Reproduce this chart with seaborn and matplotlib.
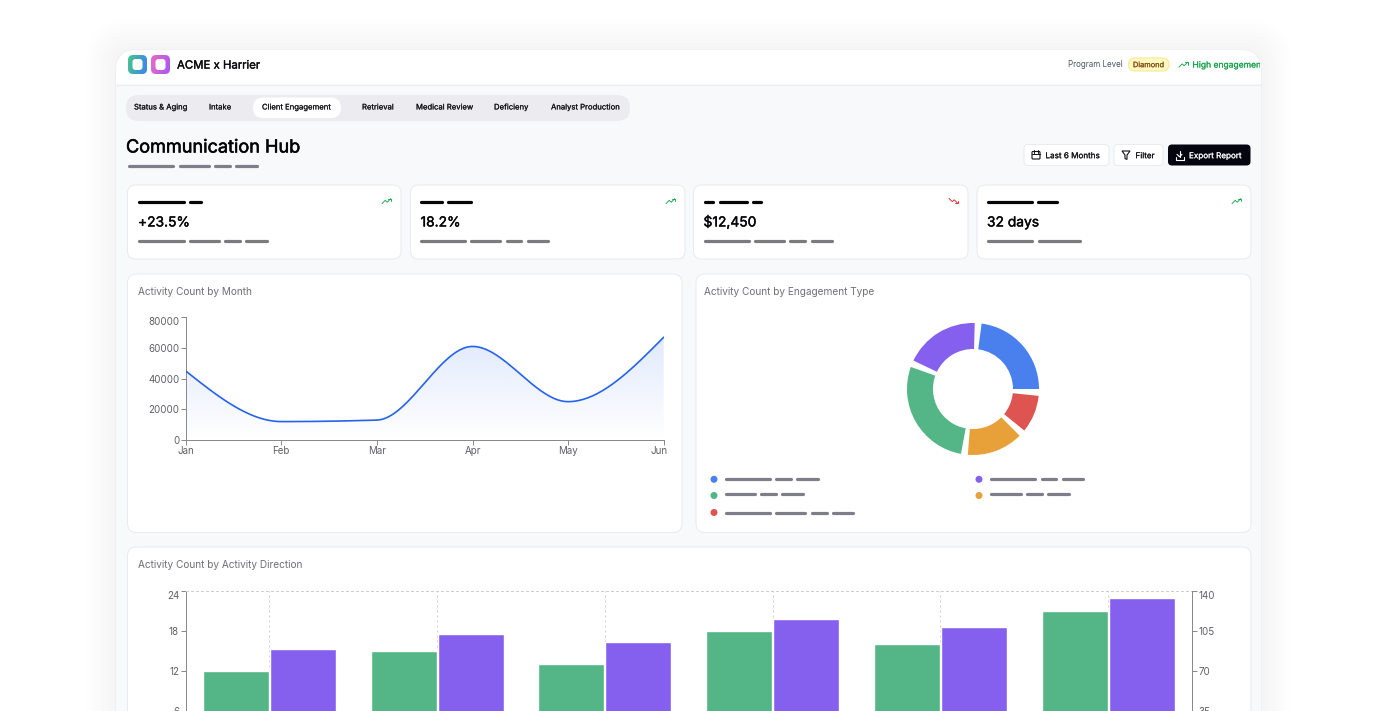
import numpy as np
import pandas as pd
import matplotlib
matplotlib.use("Agg")
import matplotlib.pyplot as plt
import matplotlib.patheffects as pe
import seaborn as sns
from matplotlib.patches import FancyBboxPatch, Circle, Polygon
from matplotlib.colors import LinearSegmentedColormap, to_rgb
from matplotlib.transforms import Bbox, ScaledTranslation

W, H = 1377, 711

# data
tabs = ["Status & Aging", "Intake", "Client Engagement", "Retrieval",
        "Medical Review", "Deficieny", "Analyst Production"]
kpi_values = ["+23.5%", "18.2%", "$12,450", "32 days"]

months = ["Jan", "Feb", "Mar", "Apr", "May", "Jun"]
activity_counts = [45000, 12000, 13000, 61000, 25000, 67000]

engagement_types = ["Blue", "Purple", "Green", "Orange", "Red"]
engagement_share = [25, 20, 30, 15, 10]

direction_months = ["Jan", "Feb", "Mar", "Apr", "May", "Jun"]
inbound_counts = [12, 15, 13, 18, 16, 21]
outbound_counts = [89, 102, 95, 115, 108, 134]

BLUE = "#4a7fee"
PURPLE = "#8560ee"
GREEN = "#54b686"
ORANGE = "#e8a038"
RED = "#dd5450"
SKEL = "#7e7d8a"
AXIS = "#8a8a8a"
TICK = "#5f5f66"
BORDER = "#e9ebee"

sns.set_theme(style="white")
plt.rcParams["font.family"] = ["Inter", "DejaVu Sans"]
plt.rcParams["axes.linewidth"] = 0.72

fig = plt.figure(figsize=(W / 100, H / 100), dpi=100, facecolor="white")
bg = fig.add_axes([0, 0, 1, 1], zorder=0)
bg.set_xlim(0, W)
bg.set_ylim(H, 0)
bg.axis("off")


def px_axes(left, top, right, bottom, **kwargs):
    return fig.add_axes([left / W, 1 - bottom / H, (right - left) / W, (bottom - top) / H], **kwargs)


def box(x0, y0, x1, y1, r, fc, ec="none", lw=0.72, z=2, alpha=None):
    p = FancyBboxPatch((x0 + r, y0 + r), x1 - x0 - 2 * r, y1 - y0 - 2 * r,
                       boxstyle=f"round,pad={r},rounding_size={r}",
                       fc=fc, ec=ec, lw=lw, zorder=z, alpha=alpha)
    bg.add_patch(p)
    return p


def txt(x, y, s, px, color="black", stroke=0.0, ha="left", z=6):
    # y is the middle of the capitals, so every label in a row shares a baseline
    t = bg.text(x, y + 0.36 * px, s, fontsize=px * 0.72, color=color,
                ha=ha, va="baseline", zorder=z)
    if stroke:
        t.set_path_effects([pe.withStroke(linewidth=stroke, foreground=color)])
    return t


def skeleton(y, spans, color=SKEL):
    for x0, x1 in spans:
        bg.plot([x0 + 0.8, x1 - 2.2], [y, y], color=color, lw=2.3,
                solid_capstyle="round", zorder=5)


def gradient_box(x0, y0, x1, y1, r, c0, c1):
    cmap = LinearSegmentedColormap.from_list("g", [c0, c1])
    grid = np.linspace(0, 1, 64)
    img = 0.8 * grid[None, :] + 0.2 * grid[:, None]
    im = bg.imshow(img, extent=(x0, x1, y1, y0), cmap=cmap, aspect="auto", zorder=4)
    clip = box(x0, y0, x1, y1, r, "none", z=4)
    im.set_clip_path(clip)
    box(x0 + 4.5, y0 + 4, x1 - 4.5, y1 - 4, 3, "white", z=5)


def trend_icon(x, y, color, down=False):
    sign = -1 if down else 1
    xs = np.array([0, 3.2, 5.2, 8.8]) + x
    ys = y + sign * np.array([2.6, -0.6, 1.2, -2.4])
    bg.plot(xs, ys, color=color, lw=0.65, zorder=6)
    bg.plot([x + 6.4, x + 8.8, x + 8.8], [y - sign * 2.4, y - sign * 2.4, y],
            color=color, lw=0.65, zorder=6)


def monotone_curve(xs, ys, steps=40):
    # same cubic the browser chart uses between the points
    xs = np.asarray(xs, float)
    ys = np.asarray(ys, float)
    h = np.diff(xs)
    s = np.diff(ys) / h
    m = np.zeros(len(xs))
    for i in range(1, len(xs) - 1):
        p = (s[i - 1] * h[i] + s[i] * h[i - 1]) / (h[i - 1] + h[i])
        m[i] = (np.sign(s[i - 1]) + np.sign(s[i])) * min(abs(s[i - 1]), abs(s[i]), 0.5 * abs(p))
    m[0] = (3 * s[0] - m[1]) / 2
    m[-1] = (3 * s[-1] - m[-2]) / 2
    out_x, out_y = [], []
    for i in range(len(xs) - 1):
        t = np.linspace(0, 1, steps)
        a = (2 * t**3 - 3 * t**2 + 1) * ys[i] + (t**3 - 2 * t**2 + t) * h[i] * m[i]
        b = (-2 * t**3 + 3 * t**2) * ys[i + 1] + (t**3 - t**2) * h[i] * m[i + 1]
        out_x.extend(xs[i] + t * h[i])
        out_y.extend(a + b)
    return np.array(out_x), np.array(out_y)


# page shadow and shell
for i in range(10, 0, -1):
    box(116 - i * 3, 50 - i * 3, 1261 + i * 3, 820, 22 + i * 2, "black", z=1, alpha=0.002)
box(115, 49, 1262, 820, 22, "#f0f0f2", z=1.5)
shell = box(116, 50, 1261, 820, 21, "#f8f9fb", z=2)
head = bg.fill_between([116, 1261], 50, 84, color="white", zorder=2.5, lw=0)
head.set_clip_path(shell)
bg.plot([116, 1261], [84.5, 84.5], color="#eceef1", lw=0.8, zorder=3)

# header
gradient_box(128, 55, 147, 74, 5, "#46c78a", "#3b82f6")
gradient_box(151, 55, 170, 74, 5, "#e86cc0", "#a855f7")
txt(177, 64.5, "ACME x Harrier", 11.4, "#0b0b10", 0.25)
txt(1068, 64.5, "Program Level", 8.0, "#4b5563")
box(1128.5, 58, 1169, 71, 6.5, "#fef9c3", "#fde68a", z=4)
txt(1148.7, 64.5, "Diamond", 7.4, "#854d0e", 0.12, ha="center")
trend_icon(1179, 64.5, "#16a34a")
t = txt(1192.5, 64.5, "High engagement", 8.5, "#16a34a", 0.1)
t.set_clip_box(Bbox([[0, 0], [1260, H]]))
t.set_clip_on(True)

# tabs
box(126, 95, 630, 121, 13, "#ecebf0", z=3)
box(253, 97.5, 341, 118, 10, "white", z=4)
tab_x = [134, 209, 262, 362, 416, 494, 551]
for name, x in zip(tabs, tab_x):
    txt(x, 106.7, name, 7.7, "#111118", 0.1)

# title block
txt(126, 146, "Communication Hub", 18.1, "#050508", 0.4)
skeleton(166, [(128, 175), (179, 211), (214, 232), (235, 259)])

# buttons
box(1024, 144.5, 1109, 165.5, 4, "white", BORDER, z=4)
box(1032, 151.5, 1040, 159, 1, "none", "#111118", 0.8, z=6)
bg.plot([1032, 1040], [153.8, 153.8], color="#111118", lw=0.7, zorder=6)
bg.plot([1034.2, 1034.2], [150, 152.5], color="#111118", lw=0.7, zorder=6)
bg.plot([1037.8, 1037.8], [150, 152.5], color="#111118", lw=0.7, zorder=6)
txt(1045.5, 155.3, "Last 6 Months", 8.1, "#111118", 0.1)
box(1114, 144.5, 1163, 165.5, 4, "white", BORDER, z=4)
bg.add_patch(Polygon([(1122, 151), (1130, 151), (1127, 155), (1127, 159.5), (1125, 158.5), (1125, 155)],
                     closed=True, fc="none", ec="#111118", lw=0.8, zorder=6))
txt(1135.5, 155.3, "Filter", 8.1, "#111118", 0.1)
box(1168, 144.5, 1250.5, 165.5, 4, "#050510", z=4)
bg.plot([1179.5, 1179.5], [150.5, 156.5], color="white", lw=0.8, zorder=6)
bg.plot([1177, 1179.5, 1182], [154.3, 156.8, 154.3], color="white", lw=0.8, zorder=6)
bg.plot([1175.5, 1175.5, 1183.5, 1183.5], [157, 159.5, 159.5, 157], color="white", lw=0.8, zorder=6)
txt(1189, 155.3, "Export Report", 8.1, "white", 0.1)

# KPI cards
card_x = [(127.5, 401), (410.5, 685), (693.5, 968), (977, 1251)]
kpi_black = [[(138.5, 186), (189, 203.5)], [(420, 444), (447, 473)],
             [(704, 715), (719, 749), (752, 763)], [(987, 1034), (1037, 1059)]]
kpi_grey = [[(138.5, 186), (189, 221), (224.5, 242), (245.5, 269)],
            [(420, 467.5), (470.5, 502.5), (506, 523.5), (527, 550)],
            [(704, 751), (754, 786), (789, 807), (811, 834)],
            [(987, 1034), (1038, 1082)]]
for (x0, x1), value, black, grey in zip(card_x, kpi_values, kpi_black, kpi_grey):
    box(x0, 185, x1, 259, 8, "white", BORDER, z=3)
    skeleton(202, black, "#050508")
    skeleton(241, grey, "#7b7b7f")
    txt(x0 + 10 if x0 > 128 else 138, 221.5, value, 13.8, "#050508", 0.3)
    down = value.startswith("$")
    trend_icon(x1 - 19, 201, "#dc2626" if down else "#16a34a", down)

# chart cards
box(127.5, 274, 682, 532.5, 9, "white", BORDER, z=3)
box(696, 274, 1251, 532.5, 9, "white", BORDER, z=3)
box(127.5, 547, 1251, 820, 9, "white", BORDER, z=3)
txt(138, 291, "Activity Count by Month", 10.05, "#6f6f76")
txt(704.5, 291, "Activity Count by Engagement Type", 10.05, "#6f6f76")
txt(138, 564.7, "Activity Count by Activity Direction", 10.05, "#6f6f76")

# area chart
ax = px_axes(185.7, 317.3, 663.7, 440, zorder=2)
ax.patch.set_alpha(0)
xpos = np.arange(len(months))
curve_x, curve_y = monotone_curve(xpos, activity_counts)
sns.lineplot(x=curve_x, y=curve_y, ax=ax, color="#2563eb", lw=1.2, sort=False, errorbar=None, zorder=3)
rgb = to_rgb("#2563eb")
ramp = np.zeros((128, 2, 4))
ramp[..., :3] = rgb
ramp[..., 3] = np.linspace(0.14, 0.0, 128)[:, None]
area = ax.fill_between(curve_x, curve_y, 0, color="none", lw=0)
im = ax.imshow(ramp, extent=(0, 5, 0, max(activity_counts)), aspect="auto", zorder=2)
im.set_clip_path(area.get_paths()[0], transform=ax.transData)
ax.set_xlim(0, 5)
ax.set_ylim(0, 80000)
ax.set_xticks(xpos, months)
ax.set_yticks([0, 20000, 40000, 60000, 80000])
sns.despine(ax=ax)
ax.tick_params(colors=TICK, labelsize=7, length=3.6, width=0.72, color=AXIS, pad=1, bottom=True, left=True)
for side in ["left", "bottom"]:
    ax.spines[side].set_color(AXIS)
ax.get_yticklabels()[-1].set_va("top")
jun = ax.get_xticklabels()[-1]
jun.set_transform(jun.get_transform() + ScaledTranslation(-4.5 / 100, 0, fig.dpi_scale_trans))

# donut
dax = px_axes(973 - 70, 389 - 70, 973 + 70, 389 + 70, zorder=2)
pad_angle = 6
sweep = 360 - pad_angle * len(engagement_share)
slices, slice_colors = [], []
for share, color in zip(engagement_share, sns.color_palette([BLUE, PURPLE, GREEN, ORANGE, RED])):
    slices += [share / sum(engagement_share) * sweep, pad_angle]
    slice_colors += [color, "none"]
dax.pie(slices, colors=slice_colors, startangle=0, counterclock=True, radius=66,
        wedgeprops={"width": 26, "linewidth": 0})
dax.set_xlim(-70, 70)
dax.set_ylim(-70, 70)
dax.set_aspect("equal")

# donut legend
legend_rows = [(714, 479.3, 478.7, BLUE, [(725, 772), (775, 793), (796, 820)]),
               (714, 495.5, 494.3, GREEN, [(725, 757), (760, 778), (781, 805)]),
               (714, 512.5, 512.7, RED, [(725, 772), (775, 807), (811, 829), (832, 855)]),
               (979, 479.3, 478.7, PURPLE, [(990, 1037), (1041, 1058), (1062, 1085)]),
               (979, 495.5, 494.3, ORANGE, [(990, 1023), (1026, 1044), (1047, 1071)])]
for x, dot_y, bar_y, color, spans in legend_rows:
    bg.add_patch(Circle((x, dot_y), 3.5, fc=color, ec="none", zorder=5))
    skeleton(bar_y, spans)

# grouped bars on two scales
bars = pd.DataFrame({
    "month": direction_months * 2,
    "direction": ["Inbound"] * 6 + ["Outbound"] * 6,
    "count": inbound_counts + outbound_counts,
})
bar_palette = {"Inbound": GREEN, "Outbound": PURPLE}
order = ["Inbound", "Outbound"]
bax = px_axes(185.5, 590.7, 1192, 750.7, zorder=2)
bax.patch.set_alpha(0)
sns.barplot(data=bars[bars.direction == "Inbound"], x="month", y="count", hue="direction",
            hue_order=order, palette=bar_palette, width=0.8, gap=0.015, dodge=True, legend=False,
            saturation=1, ax=bax, zorder=3)
bax.set_ylim(0, 24)
bax.set_yticks([6, 12, 18, 24])
bax.set_xlabel("")
bax.set_ylabel("")
rax = bax.twinx()
rax.patch.set_alpha(0)
sns.barplot(data=bars[bars.direction == "Outbound"], x="month", y="count", hue="direction",
            hue_order=order, palette=bar_palette, width=0.8, gap=0.015, dodge=True, legend=False,
            saturation=1, ax=rax, zorder=3)
rax.set_ylim(0, 140)
rax.set_yticks([35, 70, 105, 140])
rax.set_xlabel("")
rax.set_ylabel("")
bax.set_xlim(-0.5, 5.5)
bax.set_axisbelow(True)
bax.grid(axis="x", color="#cfcfcf", lw=0.72, linestyle=(0, (2, 3)))
bax.tick_params(axis="x", length=0, labelbottom=False)
bax.tick_params(axis="y", colors=TICK, labelsize=7, length=3.6, width=0.72, color=AXIS, pad=1, left=True)
rax.tick_params(axis="x", length=0, labelbottom=False)
rax.tick_params(axis="y", colors=TICK, labelsize=7, length=3.6, width=0.72, color=AXIS, pad=1, right=True)
bax.spines["right"].set_visible(False)
bax.spines["bottom"].set_visible(False)
bax.spines["left"].set_color(AXIS)
bax.spines["top"].set_color("#cfcfcf")
bax.spines["top"].set_linestyle((0, (2, 3)))
rax.spines["left"].set_visible(False)
rax.spines["bottom"].set_visible(False)
rax.spines["top"].set_visible(False)
rax.spines["right"].set_color(AXIS)
bax.get_yticklabels()[-1].set_va("top")
rax.get_yticklabels()[-1].set_va("top")

fig.savefig("out.png", dpi=100, facecolor="white")
